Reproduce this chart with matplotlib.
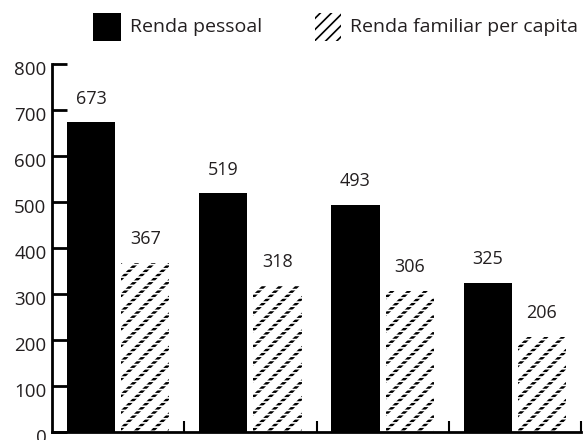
import matplotlib
matplotlib.use("Agg")
import matplotlib.pyplot as plt
from matplotlib.patches import Rectangle
import matplotlib.transforms as mtransforms
import numpy as np

plt.rcParams['font.family'] = ['Open Sans', 'DejaVu Sans']

categories = ['', '', '', '']
series_names = ['Renda pessoal', 'Renda familiar per capita']
renda_pessoal = [673, 519, 493, 325]
renda_familiar = [367, 318, 306, 206]
yticks = [0, 100, 200, 300, 400, 500, 600, 700, 800]

text_color = '#231f20'

fig = plt.figure(figsize=(5.84, 4.4), dpi=100)
ax = fig.add_axes([52/584, 1-432/440, (581-52)/584, (432-64)/440])

x = np.arange(len(categories))
w = 0.364
xp = x + 0.295
xf = x + 0.705

ax.bar(xp, renda_pessoal, width=w, color='black', edgecolor='none')

with plt.rc_context({'hatch.linewidth': 2.2}):
    hb = ax.bar(xf, renda_familiar, width=w, color='white', edgecolor='black',
                linewidth=0, hatch='//')
    for p in hb:
        if hasattr(p, 'set_hatch_linewidth'):
            p.set_hatch_linewidth(2.2)
# break hatch lines into dashes
with plt.rc_context({'hatch.linewidth': 1.2}):
    ob = ax.bar(xf, renda_familiar, width=w, color='none', edgecolor='white',
                linewidth=0, hatch='----')
    for p in ob:
        if hasattr(p, 'set_hatch_linewidth'):
            p.set_hatch_linewidth(1.2)

for xi, v in zip(xp, renda_pessoal):
    ax.annotate(str(v), (xi, v), xytext=(0, 13.5), textcoords='offset points',
                ha='center', va='baseline', fontsize=13, color=text_color)
for xi, v in zip(xf, renda_familiar):
    ax.annotate(str(v), (xi, v), xytext=(0, 13.5), textcoords='offset points',
                ha='center', va='baseline', fontsize=13, color=text_color)

ax.set_xlim(0, len(categories))
ax.set_ylim(0, 800)
ax.set_yticks(yticks)
ax.set_xticks(np.arange(1, len(categories) + 1))
ax.set_xticklabels([''] * len(categories))
ax.tick_params(axis='y', direction='in', length=11, width=2, labelsize=13.5,
               labelcolor=text_color, pad=4)
ax.tick_params(axis='x', direction='in', length=8, width=1.5)
for s in ['top', 'right']:
    ax.spines[s].set_visible(False)
ax.spines['left'].set_linewidth(2)
ax.spines['bottom'].set_linewidth(2)
ax.spines['left'].set_capstyle('projecting')
ax.spines['bottom'].set_capstyle('projecting')

# shift y tick labels slightly down as in reference
off = mtransforms.ScaledTranslation(0, -4/100, fig.dpi_scale_trans)
for lab in ax.get_yticklabels():
    lab.set_transform(lab.get_transform() + off)

# legend (figure pixel coordinates converted to fractions)
W, H = 584, 440
fig.add_artist(Rectangle((93/W, 1-41/H), 28/W, 28/H, transform=fig.transFigure,
                         facecolor='black', edgecolor='none'))
fig.text(130/W, 1-27/H, series_names[0], fontsize=14, color=text_color,
         ha='left', va='center')
with plt.rc_context({'hatch.linewidth': 1.2}):
    lp = Rectangle((315/W, 1-41/H), 26/W, 28/H, transform=fig.transFigure,
                   facecolor='white', edgecolor='black', linewidth=0, hatch='///')
fig.add_artist(lp)
fig.text(350/W, 1-27/H, series_names[1], fontsize=14, color=text_color,
         ha='left', va='center')

fig.savefig('out.png', dpi=100)
